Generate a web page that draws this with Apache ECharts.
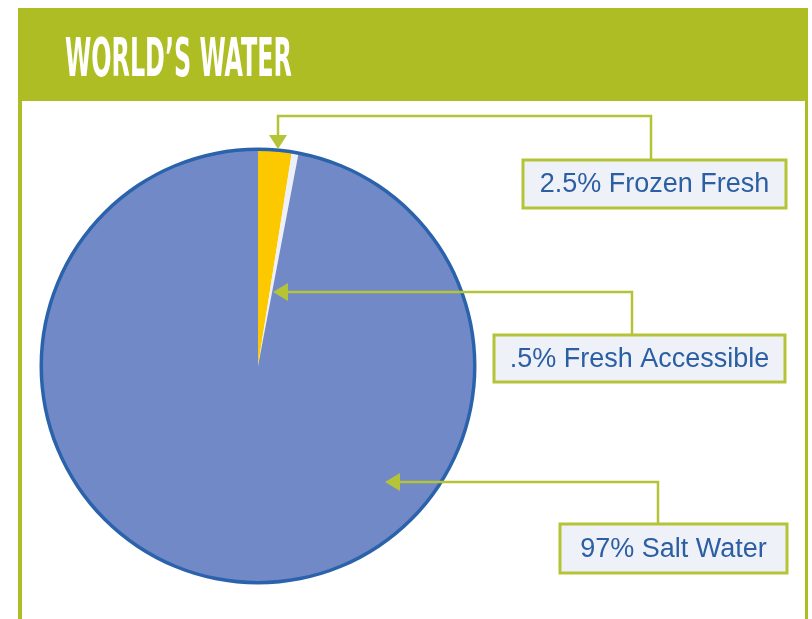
<!DOCTYPE html>
<html>
<head>
<meta charset="utf-8">
<script src="https://cdn.jsdelivr.net/npm/echarts@6/dist/echarts.min.js"></script>
<style>
html,body{margin:0;padding:0;background:#fff;}
#chart{width:812px;height:619px;}
</style>
</head>
<body>
<div id="chart"></div>
<script>
const title = "WORLD\u2019S WATER";
const categories = ["Frozen Fresh", "Fresh Accessible", "Salt Water"];
const values = [2.5, 0.5, 97];
const labelTexts = ["2.5% Frozen Fresh", ".5% Fresh Accessible", "97% Salt Water"];
const colors = ["#fcc800", "#eef0f8", "#7189c7"];

const green = "#aebd24";
const boxGreen = "#b4c436";
const textBlue = "#2b5ea3";

const chart = echarts.init(document.getElementById('chart'));

// annotation layout (decoration): box rect + connector path
const boxes = [
  {x: 523, y: 160, w: 263, h: 48, conn: [[651,160],[651,116],[278,116],[278,140]], tip: [278,149], dir: 'down'},
  {x: 494, y: 335, w: 291, h: 47, conn: [[632,335],[632,292],[282,292]], tip: [273,292], dir: 'left'},
  {x: 560, y: 524, w: 227, h: 49, conn: [[658,524],[658,482],[394,482]], tip: [385,482], dir: 'left'}
];

const graphics = [
  // frame
  {type:'rect', shape:{x:18, y:8, width:790, height:93}, style:{fill:green}, z:1},
  {type:'rect', shape:{x:18, y:8, width:4, height:620}, style:{fill:green}, z:1},
  {type:'rect', shape:{x:805, y:8, width:3, height:620}, style:{fill:green}, z:1},
  {type:'text', x:65, y:36, scaleX:0.5, z:3,
    style:{text:title, fill:'#ffffff', font:'bold 53px "DejaVu Sans Condensed", "Liberation Sans Narrow", sans-serif'}}
];

boxes.forEach((b, i) => {
  const pts = b.conn;
  graphics.push({type:'polyline', shape:{points:pts}, style:{stroke:boxGreen, lineWidth:2.5, fill:null}, z:5});
  const t = b.tip;
  let tri;
  if (b.dir === 'down') tri = [[t[0]-9, t[1]-14],[t[0]+9, t[1]-14],[t[0], t[1]]];
  else tri = [[t[0], t[1]],[t[0]+15, t[1]-9],[t[0]+15, t[1]+9]];
  graphics.push({type:'polygon', shape:{points:tri}, style:{fill:boxGreen}, z:6});
  graphics.push({type:'rect', shape:{x:b.x, y:b.y, width:b.w, height:b.h},
    style:{fill:'#eef1f8', stroke:boxGreen, lineWidth:3}, z:5});
  graphics.push({type:'text', x:b.x + b.w/2, y:b.y + b.h/2 + 1, z:7,
    style:{text:labelTexts[i], fill:textBlue, font:'27px "Liberation Sans", Arial, sans-serif',
      textAlign:'center', textVerticalAlign:'middle'}});
});

chart.setOption({
  animation: false,
  backgroundColor: '#ffffff',
  graphic: graphics,
  series: [
    {
      type: 'pie',
      center: [258, 366],
      radius: [0, 216],
      startAngle: 90,
      clockwise: true,
      silent: true,
      label: {show: false},
      labelLine: {show: false},
      data: categories.map((c, i) => ({name: c, value: values[i], itemStyle: {color: colors[i]}})),
      z: 2
    },
    {
      type: 'pie',
      center: [258, 366],
      radius: [215, 218.5],
      silent: true,
      label: {show: false},
      labelLine: {show: false},
      data: [{name: 'outline', value: 1, itemStyle: {color: '#2a63ab'}}],
      z: 3
    }
  ]
});
</script>
</body>
</html>
